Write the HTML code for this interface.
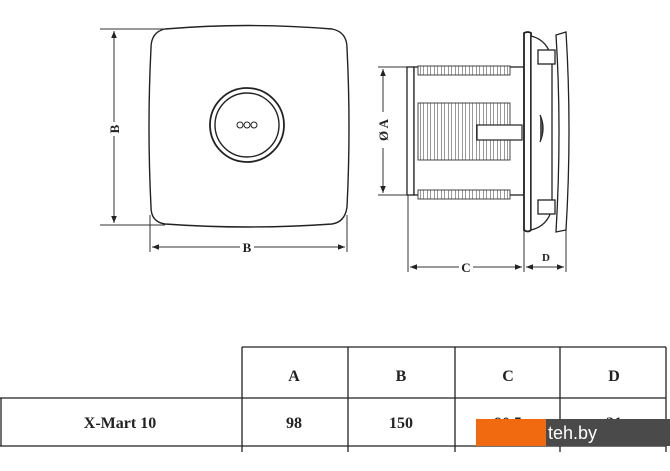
<!DOCTYPE html>
<html><head><meta charset="utf-8"><style>
body{margin:0;background:#fff;width:670px;height:471px;overflow:hidden;position:relative;font-family:"Liberation Serif",serif}
svg{position:absolute;left:0;top:0}
</style></head><body>
<svg width="670" height="471" viewBox="0 0 670 471">
<defs><marker id="a" viewBox="0 0 10 10" refX="10" refY="5" markerWidth="7" markerHeight="7" orient="auto-start-reverse"><path d="M0,1 L10,5 L0,9 z" fill="#222"/></marker>
<pattern id="f" width="3.5" height="4" patternUnits="userSpaceOnUse"><rect width="4" height="4" fill="#fff"/><line x1="0" y1="0" x2="0" y2="4" stroke="#333" stroke-width="1"/></pattern></defs>
<g fill="none" stroke="#222" stroke-width="1.4">
<path d="M165,29 Q248,22 332,29 Q347,32 347,48 Q351,127 347,207 Q345,222 332,224 Q248,230 165,224 Q151,222 151,207 Q147,127 151,48 Q151,32 165,29 Z"/>
<circle cx="247" cy="125" r="37" stroke-width="1.8"/>
<circle cx="247" cy="125" r="32"/>
<circle cx="240" cy="125" r="3" stroke-width="1"/><circle cx="247" cy="125" r="3" stroke-width="1"/><circle cx="254" cy="125" r="3" stroke-width="1"/>
</g>
<g stroke="#333" stroke-width="1" fill="none">
<line x1="100" y1="29" x2="165" y2="29"/><line x1="100" y1="225" x2="165" y2="225"/>
<line x1="114" y1="31" x2="114" y2="223" marker-start="url(#a)" marker-end="url(#a)"/>
<line x1="150" y1="215" x2="150" y2="252"/><line x1="347" y1="215" x2="347" y2="252"/>
<line x1="152" y1="247" x2="345" y2="247" marker-start="url(#a)" marker-end="url(#a)"/>
<line x1="378" y1="67" x2="414" y2="67"/><line x1="378" y1="195" x2="414" y2="195"/>
<line x1="383" y1="69" x2="383" y2="193" marker-start="url(#a)" marker-end="url(#a)"/>
<line x1="408" y1="195" x2="408" y2="272"/><line x1="524" y1="230" x2="524" y2="272"/><line x1="566" y1="230" x2="566" y2="272"/>
<line x1="410" y1="267" x2="522" y2="267" marker-start="url(#a)" marker-end="url(#a)"/>
<line x1="526" y1="267" x2="564" y2="267" marker-start="url(#a)" marker-end="url(#a)"/>
</g>
<g stroke="#222" stroke-width="1.3" fill="#fff">
<rect x="407" y="67" width="7" height="128"/>
<rect x="414" y="67" width="110" height="128"/>
<path d="M524,33 Q528,31 531,33 L531,230 Q528,233 524,230 Z" stroke-width="1.8"/>
<path d="M531,36 Q548,40 552,60 L552,208 Q548,226 531,230 Z"/>
<path d="M556,35 L566,32 Q572,130 566,230 L556,232 Q562,130 556,35 Z"/>
<rect x="538" y="50" width="17" height="14"/><rect x="538" y="200" width="17" height="14"/>
<path d="M540,115 Q546,128 540,142" fill="#555"/>
</g>
<g stroke="#333" stroke-width="0.9">
<rect x="418" y="66" width="92" height="9" fill="url(#f)"/>
<rect x="418" y="190" width="92" height="9" fill="url(#f)"/>
<rect x="418" y="103" width="92" height="57" fill="url(#f)"/>
<rect x="477" y="125" width="45" height="15" fill="#fff" stroke-width="1.3"/>
</g>
<g font-weight="bold" font-size="13" fill="#222" text-anchor="middle">
<rect x="108" y="122" width="12" height="14" fill="#fff"/>
<text transform="translate(119,129) rotate(-90)">B</text>
<rect x="240" y="240" width="14" height="14" fill="#fff"/><text x="247" y="252">B</text>
<rect x="376" y="112" width="14" height="36" fill="#fff"/>
<text transform="translate(388,130) rotate(-90)">Ø A</text>
<rect x="459" y="260" width="14" height="14" fill="#fff"/><text x="466" y="272">C</text>
<text x="546" y="261" font-size="11">D</text>
</g>
<g stroke="#222" stroke-width="1.3" fill="none">
<line x1="242" y1="347" x2="666" y2="347"/>
<line x1="0" y1="398" x2="666" y2="398"/>
<line x1="0" y1="446" x2="666" y2="446"/>
<line x1="242" y1="347" x2="242" y2="452"/><line x1="348" y1="347" x2="348" y2="452"/>
<line x1="455" y1="347" x2="455" y2="452"/><line x1="560" y1="347" x2="560" y2="452"/>
<line x1="666" y1="347" x2="666" y2="452"/><line x1="1" y1="398" x2="1" y2="446"/>
</g>
<g font-weight="bold" font-size="16" fill="#222" text-anchor="middle">
<text x="294" y="381">A</text><text x="401" y="381">B</text><text x="508" y="381">C</text><text x="614" y="381">D</text>
<text x="120" y="428">X-Mart 10</text><text x="294" y="428">98</text><text x="401" y="428">150</text>
<text x="508" y="428">90.5</text><text x="614" y="428">31</text>
</g>
<rect x="476" y="419" width="70" height="27" fill="#f26a10"/>
<rect x="546" y="419" width="124" height="27" fill="#4a4a4a"/>
<text x="548" y="439" font-family="Liberation Sans,sans-serif" font-size="18" fill="#fff">teh.by</text>
</svg>
</body></html>
